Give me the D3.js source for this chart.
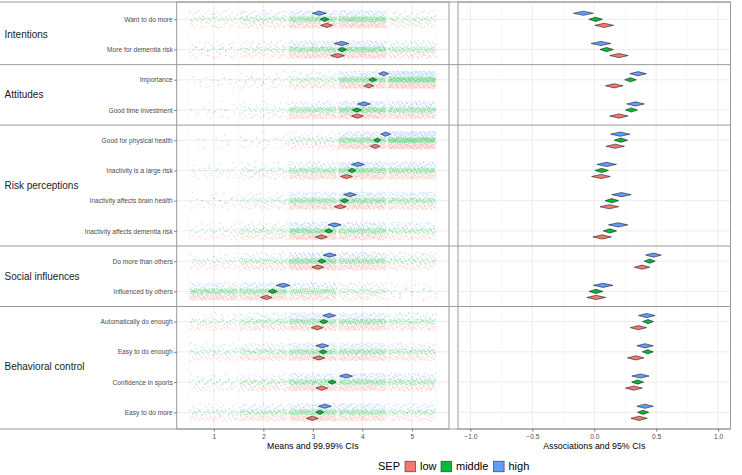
<!DOCTYPE html>
<html>
<head>
<meta charset="utf-8">
<script src="https://cdn.jsdelivr.net/npm/d3@7/dist/d3.min.js"></script>
<style>
  html, body { margin: 0; padding: 0; background: #fff; }
  svg { display: block; font-family: "Liberation Sans", Arial, sans-serif; }
</style>
</head>
<body>
<svg id="chart" width="742" height="475"></svg>
<script>
// ---------------- DATA ----------------
const items = ["Want to do more", "More for dementia risk", "Importance", "Good time investment",
  "Good for physical health", "Inactivity is a large risk", "Inactivity affects brain health",
  "Inactivity affects dementia risk", "Do more than others", "Influenced by others",
  "Automatically do enough", "Easy to do enough", "Confidence in sports", "Easy to do more"];
const groupNames = ["Intentions", "Attitudes", "Risk perceptions", "Social influences", "Behavioral control"];
const groupOfItem = [0, 0, 1, 1, 2, 2, 2, 2, 3, 3, 4, 4, 4, 4];
const sepLevels = ["low", "middle", "high"];
const responseLevels = [1, 2, 3, 4, 5];

// Means and 99.99% CIs (half widths)
const meanLow  = [3.28, 3.50, 4.13, 3.90, 4.26, 3.68, 3.55, 3.17, 3.10, 2.06, 3.09, 3.12, 3.18, 2.99];
const meanMid  = [3.24, 3.59, 4.21, 3.89, 4.30, 3.79, 3.64, 3.32, 3.18, 2.19, 3.22, 3.21, 3.39, 3.14];
const meanHigh = [3.13, 3.58, 4.43, 4.03, 4.47, 3.91, 3.75, 3.44, 3.34, 2.40, 3.33, 3.19, 3.67, 3.24];
const ciHalfLow  = [0.12, 0.14, 0.10, 0.12, 0.10, 0.12, 0.12, 0.12, 0.12, 0.12, 0.12, 0.12, 0.12, 0.12];
const ciHalfMid  = [0.09, 0.09, 0.08, 0.09, 0.07, 0.08, 0.08, 0.08, 0.08, 0.09, 0.08, 0.08, 0.08, 0.08];
const ciHalfHigh = [0.14, 0.15, 0.10, 0.13, 0.10, 0.13, 0.13, 0.13, 0.13, 0.14, 0.13, 0.13, 0.13, 0.13];

// Associations and 95% CIs
const assocLow  = [0.080, 0.200, 0.161, 0.199, 0.169, 0.054, 0.121, 0.064, 0.386, 0.016, 0.357, 0.335, 0.320, 0.362];
const assocMid  = [0.011, 0.100, 0.293, 0.300, 0.215, 0.060, 0.142, 0.126, 0.448, 0.014, 0.434, 0.432, 0.350, 0.394];
const assocHigh = [-0.088, 0.054, 0.354, 0.333, 0.210, 0.100, 0.220, 0.193, 0.478, 0.072, 0.424, 0.410, 0.373, 0.410];
const assocHalfLow  = [0.076, 0.074, 0.071, 0.074, 0.074, 0.075, 0.075, 0.075, 0.062, 0.076, 0.066, 0.067, 0.068, 0.066];
const assocHalfMid  = [0.055, 0.054, 0.047, 0.048, 0.054, 0.054, 0.055, 0.054, 0.044, 0.056, 0.044, 0.044, 0.048, 0.045];
const assocHalfHigh = [0.080, 0.080, 0.067, 0.071, 0.078, 0.079, 0.078, 0.078, 0.063, 0.079, 0.067, 0.067, 0.070, 0.067];

// Raw responses: number of respondents at response levels 1..5 per item
const countsLow = [
  [25, 45, 115, 130, 35], [20, 35, 110, 125, 60], [8, 18, 55, 120, 149], [8, 20, 90, 130, 102],
  [5, 12, 40, 125, 168], [12, 30, 95, 120, 93], [12, 30, 110, 120, 78], [22, 48, 135, 100, 45],
  [25, 55, 135, 100, 35], [115, 110, 80, 35, 10], [32, 60, 105, 100, 53], [32, 60, 105, 98, 55],
  [28, 55, 110, 100, 57], [35, 65, 120, 90, 40]];
const countsMid = [
  [35, 65, 165, 185, 50], [25, 45, 150, 185, 95], [8, 20, 60, 170, 242], [10, 25, 125, 190, 150],
  [5, 15, 50, 175, 255], [15, 35, 125, 175, 150], [15, 40, 150, 175, 120], [25, 60, 185, 150, 80],
  [30, 75, 190, 150, 55], [150, 150, 125, 60, 15], [40, 80, 150, 150, 80], [40, 85, 150, 140, 85],
  [30, 65, 150, 150, 105], [40, 85, 165, 140, 70]];
const countsHigh = [
  [18, 35, 65, 65, 17], [12, 22, 60, 70, 36], [2, 6, 18, 62, 112], [3, 10, 42, 75, 70],
  [1, 4, 15, 62, 118], [4, 12, 45, 75, 64], [5, 12, 55, 72, 56], [8, 20, 70, 65, 37],
  [9, 24, 72, 65, 30], [45, 60, 55, 30, 10], [12, 30, 62, 62, 34], [14, 32, 62, 58, 34],
  [8, 18, 55, 70, 49], [12, 30, 65, 62, 31]];

const xTicksLeft = [1, 2, 3, 4, 5];
const xTicksRight = [-1.0, -0.5, 0.0, 0.5, 1.0];
const sepColors = ["#F8766D", "#00BA38", "#619CFF"];

// ---------------- LAYOUT ----------------
const svg = d3.select("#chart");
const panelTop = 2, panelBottom = 429;
const L = { x0: 176.7, x1: 449 };
const R = { x0: 458, x1: 730.5 };

const xL = d3.scaleLinear().domain([0.25, 5.75]).range([L.x0, L.x1]);
const xR = d3.scaleLinear().domain([-1.1, 1.1]).range([R.x0, R.x1]);
const y = d3.scalePoint().domain(items).range([19.3, 412.3]);
const step = y.step();
const dodge = d3.scalePoint().domain(["high", "middle", "low"]).range([-0.2 * step, 0.2 * step]);

const means = [meanLow, meanMid, meanHigh];
const halfs = [ciHalfLow, ciHalfMid, ciHalfHigh];
const assoc = [assocLow, assocMid, assocHigh];
const assocHalf = [assocHalfLow, assocHalfMid, assocHalfHigh];
const counts = [countsLow, countsMid, countsHigh];

// Gridlines
function grid(g, xs, majorT, minorT, x0, x1) {
  g.selectAll(".minor").data(minorT).join("line")
    .attr("x1", d => xs(d)).attr("x2", d => xs(d)).attr("y1", panelTop).attr("y2", panelBottom)
    .attr("stroke", "#f3f3f3").attr("stroke-width", 0.6);
  g.selectAll(".major").data(majorT).join("line")
    .attr("x1", d => xs(d)).attr("x2", d => xs(d)).attr("y1", panelTop).attr("y2", panelBottom)
    .attr("stroke", "#ebebeb").attr("stroke-width", 0.9);
  g.selectAll(".ymajor").data(items).join("line")
    .attr("x1", x0).attr("x2", x1).attr("y1", d => y(d)).attr("y2", d => y(d))
    .attr("stroke", "#ebebeb").attr("stroke-width", 0.9);
}
const gGridL = svg.append("g");
grid(gGridL, xL, xTicksLeft, [0.5, 1.5, 2.5, 3.5, 4.5, 5.5], L.x0, L.x1);
const gGridR = svg.append("g");
grid(gGridR, xR, xTicksRight, [-0.75, -0.25, 0.25, 0.75], R.x0, R.x1);

// Jittered raw responses: deterministic Halton low-discrepancy spread inside each response cell
function halton(i, b) { let f = 1, r = 0; while (i > 0) { f /= b; r += f * (i % b); i = Math.floor(i / b); } return r; }
const gPts = svg.append("g");
let seq = 0;
const pts = [];
[1, 0, 2].forEach(g => {
  items.forEach((it, i) => {
    counts[g][i].forEach((c, li) => {
      for (let k = 0; k < c; k++) {
        seq++;
        const u = halton(seq, 2), v = halton(seq, 3);
        pts.push({ g, x: responseLevels[li] + (u - 0.5) * 0.96, yy: y(it) + dodge(sepLevels[g]) + (v - 0.5) * 5.6 });
      }
    });
  });
});
gPts.selectAll("circle").data(pts).join("circle")
  .attr("cx", d => xL(d.x)).attr("cy", d => d.yy).attr("r", 0.8)
  .attr("fill", d => sepColors[d.g]).attr("fill-opacity", 0.28);

// Diamonds
function diamond(xs, m, h, yc, hh) {
  return `M${xs(m - h)},${yc} L${xs(m)},${yc - hh} L${xs(m + h)},${yc} L${xs(m)},${yc + hh} Z`;
}
const dL = [], dR = [];
[0, 1, 2].forEach(g => items.forEach((it, i) => {
  const yc = y(it) + dodge(sepLevels[g]);
  dL.push({ g, path: diamond(xL, means[g][i], halfs[g][i], yc, 2.1) });
  dR.push({ g, path: diamond(xR, assoc[g][i], assocHalf[g][i], yc, 2.1) });
}));
svg.append("g").selectAll("path").data(dL).join("path")
  .attr("d", d => d.path).attr("fill", d => sepColors[d.g]).attr("stroke", "#111").attr("stroke-width", 0.55);
svg.append("g").selectAll("path").data(dR).join("path")
  .attr("d", d => d.path).attr("fill", d => sepColors[d.g]).attr("stroke", "#111").attr("stroke-width", 0.55);

// Group separators (across the full width) and panel borders
const groupBounds = [];
for (let i = 1; i < items.length; i++) {
  if (groupOfItem[i] !== groupOfItem[i - 1]) groupBounds.push((y(items[i - 1]) + y(items[i])) / 2);
}
svg.append("g").selectAll("line").data([panelTop, ...groupBounds, panelBottom]).join("line")
  .attr("x1", 0).attr("x2", R.x1).attr("y1", d => d).attr("y2", d => d)
  .attr("stroke", "#9a9a9a").attr("stroke-width", 1);
[L, R].forEach(p => {
  svg.append("rect").attr("x", p.x0).attr("y", panelTop).attr("width", p.x1 - p.x0)
    .attr("height", panelBottom - panelTop).attr("fill", "none").attr("stroke", "#9a9a9a").attr("stroke-width", 1);
});

// Group (strip) labels
const groupCenters = groupNames.map((n, gi) => {
  const ys = items.filter((d, i) => groupOfItem[i] === gi).map(d => y(d));
  return { n, yc: (d3.min(ys) + d3.max(ys)) / 2 };
});
svg.append("g").selectAll("text").data(groupCenters).join("text")
  .attr("x", 4.5).attr("y", d => d.yc).attr("dy", "0.35em")
  .attr("font-size", 10).attr("fill", "#1a1a1a").text(d => d.n);

// Axes
function styleAxis(g) {
  g.select(".domain").remove();
  g.selectAll(".tick line").attr("stroke", "#333").attr("stroke-width", 0.6);
  g.selectAll(".tick text").attr("fill", "#4d4d4d").attr("font-size", 6.6)
    .attr("font-family", "Liberation Sans, Arial, sans-serif");
}
svg.append("g").attr("transform", `translate(${L.x0},0)`)
  .call(d3.axisLeft(y).tickSize(2.7).tickPadding(1.3)).call(styleAxis);
svg.append("g").attr("transform", `translate(0,${panelBottom})`)
  .call(d3.axisBottom(xL).tickValues(xTicksLeft).tickFormat(d3.format("d")).tickSize(2.7).tickPadding(2.2))
  .call(styleAxis);
svg.append("g").attr("transform", `translate(0,${panelBottom})`)
  .call(d3.axisBottom(xR).tickValues(xTicksRight).tickFormat(d3.format(".1f")).tickSize(2.7).tickPadding(2.2))
  .call(styleAxis);

// Axis titles
svg.append("text").attr("x", (L.x0 + L.x1) / 2).attr("y", 448.5).attr("text-anchor", "middle")
  .attr("font-size", 8.8).attr("fill", "#000").text("Means and 99.99% CIs");
svg.append("text").attr("x", (R.x0 + R.x1) / 2).attr("y", 448.5).attr("text-anchor", "middle")
  .attr("font-size", 8.8).attr("fill", "#000").text("Associations and 95% CIs");

// Legend
const lg = svg.append("g").attr("transform", "translate(0,466.5)");
lg.append("text").attr("x", 378).attr("y", 0).attr("dy", "0.35em").attr("font-size", 11).text("SEP");
const legendX = [405, 441, 493.5];
sepLevels.forEach((s, i) => {
  lg.append("rect").attr("x", legendX[i]).attr("y", -5.3).attr("width", 10.6).attr("height", 10.6)
    .attr("fill", sepColors[i]).attr("stroke", "#333").attr("stroke-width", 0.6);
  lg.append("text").attr("x", legendX[i] + 15).attr("y", 0).attr("dy", "0.35em")
    .attr("font-size", 11).text(s);
});
</script>
</body>
</html>
